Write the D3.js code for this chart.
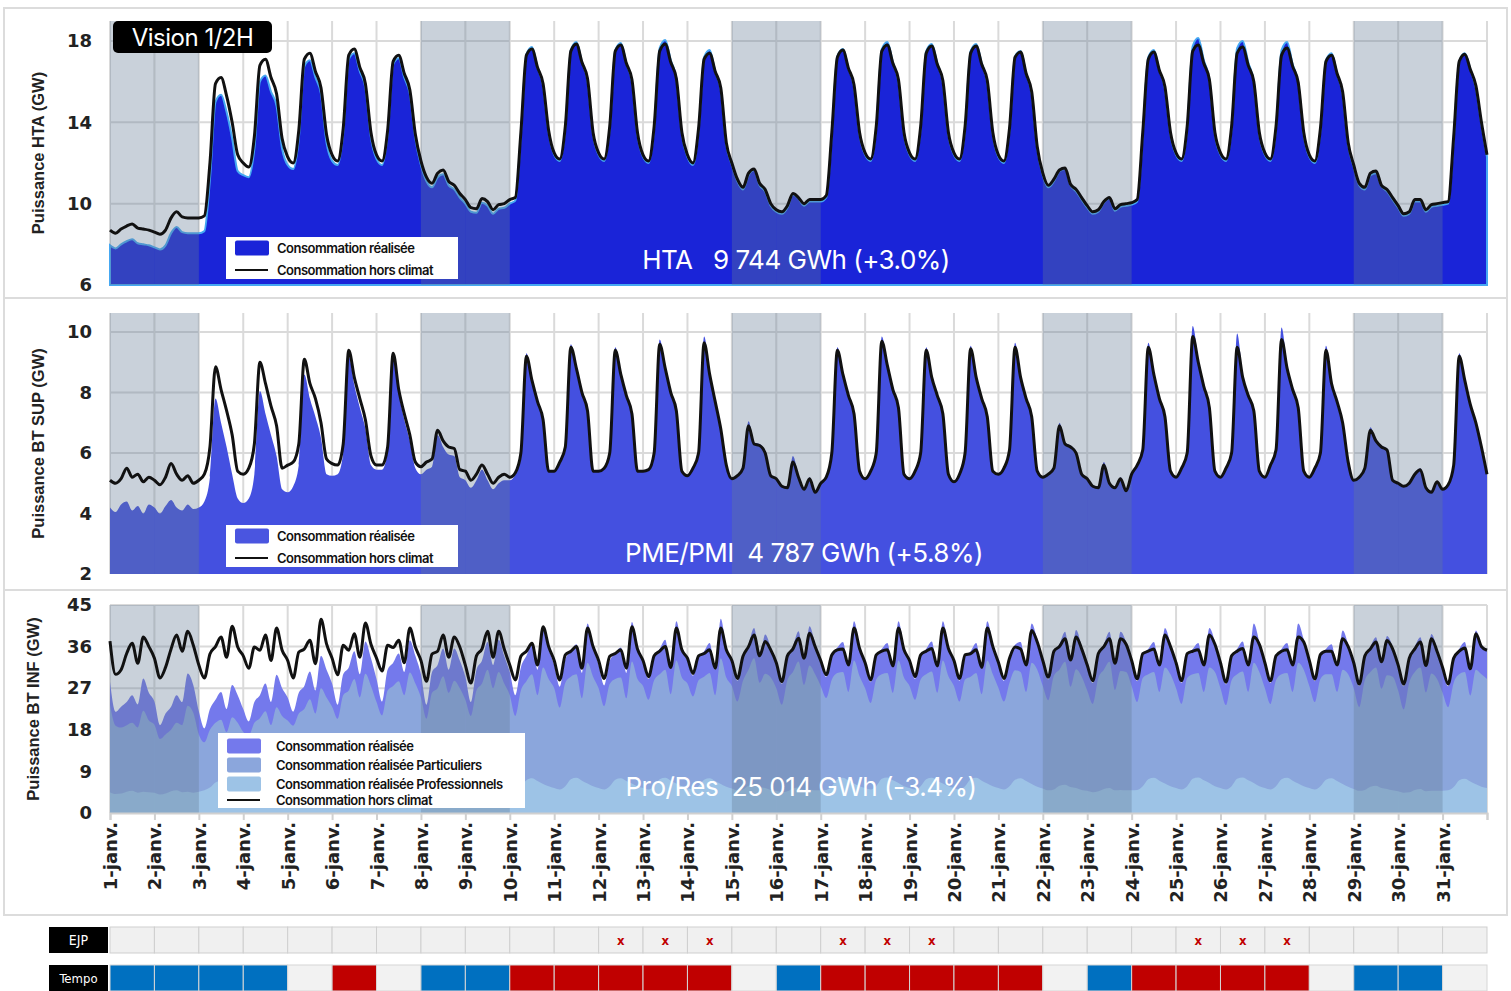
<!DOCTYPE html>
<html>
<head>
<meta charset="utf-8">
<script src="https://cdn.jsdelivr.net/npm/d3@7"></script>
<style>
  body { margin: 0; background: #fff; }
  svg { display: block; font-family: "DejaVu Sans", sans-serif; }
</style>
</head>
<body>
<svg id="chart" width="1511" height="991"></svg>
<script>
// one row = one day, 8 points every 3h (0h,3h,...,21h); last row = 1 Feb 0h
const htaHorsClimat = [
  [8.7, 8.55, 8.75, 8.9, 9.0, 8.8, 8.75, 8.7],
  [8.6, 8.5, 8.7, 9.3, 9.6, 9.35, 9.3, 9.3],
  [9.3, 9.4, 12.0, 15.9, 16.2, 15.3, 14.0, 12.4],
  [12.0, 11.8, 13.3, 16.8, 17.1, 16.2, 15.4, 13.2],
  [12.3, 12.0, 13.6, 17.1, 17.4, 16.5, 15.7, 13.4],
  [12.4, 12.1, 13.7, 17.3, 17.6, 16.7, 15.9, 13.5],
  [12.4, 12.1, 13.6, 17.0, 17.3, 16.4, 15.6, 13.4],
  [12.1, 11.3, 11.0, 11.5, 11.65, 11.1, 10.9, 10.5],
  [10.2, 9.8, 9.75, 10.25, 10.1, 9.7, 9.95, 10.0],
  [10.2, 10.3, 13.5, 17.3, 17.6, 16.7, 15.9, 13.6],
  [12.5, 12.2, 13.8, 17.5, 17.85, 16.95, 16.15, 13.5],
  [12.5, 12.2, 13.8, 17.5, 17.8, 16.9, 16.1, 13.5],
  [12.4, 12.1, 13.8, 17.5, 17.85, 16.95, 16.15, 13.5],
  [12.4, 12.0, 13.7, 17.1, 17.4, 16.5, 15.7, 13.0],
  [12.0, 11.2, 10.8, 11.5, 11.7, 11.0, 10.7, 10.0],
  [9.7, 9.6, 9.9, 10.5, 10.3, 10.0, 10.2, 10.2],
  [10.2, 10.4, 13.5, 17.2, 17.55, 16.65, 15.85, 13.5],
  [12.5, 12.2, 13.8, 17.5, 17.8, 16.9, 16.1, 13.5],
  [12.5, 12.2, 13.8, 17.4, 17.75, 16.85, 16.05, 13.5],
  [12.5, 12.2, 13.8, 17.4, 17.75, 16.85, 16.05, 13.5],
  [12.4, 12.1, 13.7, 17.2, 17.45, 16.4, 15.5, 12.8],
  [11.5, 10.9, 11.2, 11.65, 11.75, 10.95, 10.7, 10.3],
  [9.9, 9.6, 9.7, 10.1, 10.3, 9.75, 9.95, 10.0],
  [10.05, 10.2, 13.5, 17.1, 17.45, 16.55, 15.75, 13.5],
  [12.5, 12.2, 13.8, 17.5, 17.8, 16.9, 16.1, 13.5],
  [12.5, 12.2, 13.8, 17.4, 17.7, 16.8, 16.0, 13.5],
  [12.5, 12.2, 13.8, 17.3, 17.65, 16.75, 15.95, 13.5],
  [12.4, 12.1, 13.7, 17.0, 17.3, 16.4, 15.5, 13.0],
  [11.9, 11.0, 10.8, 11.5, 11.6, 10.9, 10.7, 10.3],
  [9.9, 9.5, 9.6, 10.2, 10.2, 9.7, 9.95, 10.0],
  [10.05, 10.1, 13.3, 17.0, 17.35, 16.6, 15.8, 14.0],
  [12.4]
];
const htaRealise = [
  [7.95, 7.8, 8.0, 8.15, 8.25, 8.05, 8.0, 7.95],
  [7.85, 7.75, 7.95, 8.55, 8.85, 8.6, 8.55, 8.55],
  [8.55, 8.65, 11.2, 15.0, 15.35, 14.5, 13.2, 11.6],
  [11.4, 11.3, 12.7, 16.0, 16.3, 15.5, 14.8, 12.7],
  [11.9, 11.7, 13.2, 16.75, 17.05, 16.2, 15.4, 13.0],
  [12.1, 11.9, 13.45, 17.1, 17.4, 16.5, 15.7, 13.25],
  [12.2, 11.9, 13.4, 16.85, 17.15, 16.2, 15.4, 13.2],
  [11.9, 11.1, 10.8, 11.3, 11.45, 10.9, 10.7, 10.3],
  [10.0, 9.6, 9.55, 10.05, 9.9, 9.5, 9.75, 9.8],
  [10.0, 10.15, 13.4, 17.35, 17.7, 16.7, 15.8, 13.5],
  [12.4, 12.1, 13.7, 17.55, 17.95, 16.95, 16.05, 13.4],
  [12.4, 12.1, 13.7, 17.55, 17.9, 16.9, 16.0, 13.4],
  [12.3, 12.0, 13.7, 17.65, 18.05, 17.05, 16.15, 13.4],
  [12.3, 11.9, 13.6, 17.2, 17.55, 16.5, 15.6, 12.9],
  [11.9, 11.1, 10.7, 11.4, 11.65, 10.9, 10.6, 9.9],
  [9.6, 9.5, 9.8, 10.45, 10.25, 9.9, 10.1, 10.1],
  [10.1, 10.3, 13.4, 17.25, 17.6, 16.65, 15.75, 13.4],
  [12.4, 12.1, 13.7, 17.6, 17.95, 16.95, 16.0, 13.4],
  [12.4, 12.1, 13.7, 17.5, 17.85, 16.9, 15.95, 13.4],
  [12.4, 12.1, 13.7, 17.5, 17.85, 16.9, 15.95, 13.4],
  [12.3, 12.0, 13.6, 17.25, 17.5, 16.4, 15.4, 12.7],
  [11.4, 10.8, 11.1, 11.6, 11.7, 10.9, 10.6, 10.2],
  [9.8, 9.5, 9.6, 10.05, 10.25, 9.65, 9.85, 9.9],
  [9.95, 10.1, 13.4, 17.2, 17.55, 16.55, 15.65, 13.4],
  [12.4, 12.1, 13.7, 17.75, 18.15, 17.05, 16.1, 13.4],
  [12.4, 12.1, 13.7, 17.65, 18.0, 16.95, 16.0, 13.4],
  [12.4, 12.1, 13.7, 17.55, 17.95, 16.85, 15.95, 13.4],
  [12.3, 12.0, 13.6, 17.05, 17.4, 16.4, 15.4, 12.9],
  [11.8, 10.9, 10.7, 11.4, 11.5, 10.85, 10.6, 10.2],
  [9.8, 9.4, 9.5, 10.1, 10.1, 9.6, 9.85, 9.9],
  [9.95, 10.0, 13.2, 17.0, 17.4, 16.6, 15.7, 13.9],
  [12.3]
];
const btsupHorsClimat = [
  [5.1, 5.0, 5.15, 5.5, 5.2, 5.3, 5.05, 5.2],
  [5.1, 4.95, 5.2, 5.65, 5.3, 5.1, 5.25, 5.0],
  [5.1, 5.3, 6.2, 8.85, 8.1, 7.4, 6.6, 5.4],
  [5.3, 5.5, 6.3, 9.0, 8.3, 7.55, 6.9, 5.5],
  [5.6, 5.7, 6.3, 9.1, 8.3, 7.8, 7.0, 5.8],
  [5.65, 5.6, 6.3, 9.4, 8.5, 7.8, 7.1, 5.9],
  [5.6, 5.6, 6.2, 9.3, 8.1, 7.3, 6.6, 5.7],
  [5.55, 5.7, 5.8, 6.75, 6.4, 6.2, 6.15, 5.45],
  [5.4, 5.1, 5.3, 5.6, 5.3, 5.0, 5.2, 5.3],
  [5.2, 5.35, 6.0, 9.2, 8.4, 7.7, 7.1, 5.4],
  [5.4, 5.7, 6.2, 9.5, 8.8, 8.0, 7.4, 5.4],
  [5.4, 5.5, 6.0, 9.4, 8.6, 7.9, 7.3, 5.4],
  [5.4, 5.45, 6.0, 9.6, 8.8, 8.0, 7.4, 5.4],
  [5.25, 5.5, 6.0, 9.65, 8.6, 7.7, 6.8, 5.6],
  [5.15, 5.25, 5.5, 6.9, 6.3, 6.25, 6.0, 5.25],
  [5.15, 4.9, 4.85, 5.7, 5.2, 4.8, 5.15, 4.7],
  [5.0, 5.2, 6.0, 9.4, 8.6, 7.9, 7.3, 5.4],
  [5.15, 5.4, 6.0, 9.7, 8.9, 8.1, 7.5, 5.3],
  [5.15, 5.4, 6.0, 9.4, 8.5, 7.9, 7.3, 5.3],
  [5.05, 5.3, 6.0, 9.45, 8.5, 7.8, 7.2, 5.4],
  [5.3, 5.5, 6.1, 9.5, 8.5, 7.8, 7.2, 5.4],
  [5.2, 5.3, 5.5, 6.9, 6.3, 6.2, 6.0, 5.3],
  [5.15, 4.9, 4.85, 5.6, 5.0, 4.85, 5.15, 4.75],
  [5.3, 5.6, 6.1, 9.5, 8.6, 7.8, 7.2, 5.4],
  [5.2, 5.5, 6.0, 9.85, 9.0, 8.2, 7.5, 5.4],
  [5.2, 5.5, 6.0, 9.5, 8.5, 7.9, 7.4, 5.4],
  [5.2, 5.6, 6.1, 9.75, 8.8, 8.1, 7.5, 5.4],
  [5.2, 5.5, 6.0, 9.4, 8.3, 7.7, 7.0, 5.7],
  [5.1, 5.2, 5.5, 6.75, 6.4, 6.2, 6.1, 5.1],
  [5.0, 4.9, 5.0, 5.3, 5.45, 4.85, 4.7, 5.05],
  [4.8, 4.95, 5.6, 9.2, 8.4, 7.6, 7.0, 6.2],
  [5.3]
];
const btsupRealise = [
  [4.2, 4.05, 4.3, 4.4, 4.1, 4.25, 4.0, 4.3],
  [4.2, 4.0, 4.25, 4.45, 4.2, 4.1, 4.3, 4.15],
  [4.2, 4.4, 5.2, 7.8, 7.0, 6.2, 5.3, 4.5],
  [4.35, 4.5, 5.3, 8.05, 7.3, 6.6, 5.9, 4.8],
  [4.7, 4.9, 5.6, 8.6, 7.8, 7.2, 6.5, 5.3],
  [5.25, 5.3, 6.0, 9.2, 8.25, 7.5, 6.8, 5.6],
  [5.45, 5.45, 6.05, 9.25, 8.0, 7.1, 6.4, 5.5],
  [5.3, 5.45, 5.55, 6.6, 6.2, 5.95, 5.9, 5.2],
  [5.1, 4.85, 5.1, 5.45, 5.1, 4.8, 5.0, 5.1],
  [5.1, 5.3, 6.0, 9.3, 8.45, 7.7, 7.1, 5.4],
  [5.4, 5.7, 6.2, 9.6, 8.85, 8.0, 7.4, 5.4],
  [5.4, 5.5, 6.0, 9.5, 8.65, 7.9, 7.3, 5.4],
  [5.4, 5.45, 6.05, 9.75, 8.85, 8.0, 7.4, 5.4],
  [5.25, 5.5, 6.05, 9.85, 8.7, 7.7, 6.8, 5.6],
  [5.15, 5.3, 5.55, 7.05, 6.35, 6.3, 6.05, 5.25],
  [5.15, 4.9, 4.9, 5.9, 5.25, 4.85, 5.2, 4.75],
  [5.0, 5.2, 6.05, 9.5, 8.65, 7.9, 7.3, 5.4],
  [5.15, 5.4, 6.05, 9.85, 8.95, 8.1, 7.5, 5.3],
  [5.15, 5.4, 6.05, 9.5, 8.55, 7.9, 7.3, 5.3],
  [5.05, 5.3, 6.05, 9.55, 8.55, 7.8, 7.2, 5.4],
  [5.3, 5.5, 6.15, 9.65, 8.55, 7.8, 7.2, 5.4],
  [5.2, 5.3, 5.55, 7.0, 6.35, 6.25, 6.05, 5.3],
  [5.15, 4.9, 4.9, 5.7, 5.05, 4.9, 5.2, 4.8],
  [5.3, 5.6, 6.15, 9.65, 8.65, 7.8, 7.2, 5.4],
  [5.2, 5.5, 6.1, 10.2, 9.1, 8.2, 7.5, 5.4],
  [5.2, 5.5, 6.1, 9.95, 8.6, 7.9, 7.4, 5.4],
  [5.2, 5.6, 6.15, 10.15, 8.9, 8.1, 7.5, 5.4],
  [5.2, 5.5, 6.05, 9.55, 8.35, 7.7, 7.0, 5.7],
  [5.1, 5.2, 5.55, 6.85, 6.45, 6.25, 6.15, 5.1],
  [5.0, 4.9, 5.05, 5.35, 5.5, 4.9, 4.75, 5.05],
  [4.8, 4.95, 5.65, 9.3, 8.45, 7.6, 7.0, 6.2],
  [5.3]
];
const btinfHorsClimat = [
  [37.2, 30.0, 31.0, 34.5, 36.7, 32.4, 38.1, 36.0],
  [33.5, 29.2, 31.5, 35.5, 38.5, 35.0, 39.3, 36.3],
  [32.0, 29.2, 34.4, 36.0, 38.1, 33.7, 40.4, 35.9],
  [34.0, 31.3, 35.9, 35.2, 38.5, 33.0, 40.0, 35.2],
  [33.0, 29.2, 34.8, 35.5, 37.4, 32.3, 41.9, 36.6],
  [33.5, 29.9, 36.3, 35.2, 38.8, 33.7, 41.1, 36.5],
  [33.5, 30.7, 36.3, 35.8, 37.4, 32.5, 40.0, 35.9],
  [33.0, 28.5, 34.4, 35.0, 38.5, 33.7, 38.1, 35.9],
  [32.0, 28.1, 34.0, 35.5, 39.3, 33.7, 39.3, 35.5],
  [32.0, 28.8, 33.9, 35.0, 36.7, 32.0, 40.3, 36.0],
  [33.0, 28.8, 34.2, 35.0, 36.0, 31.3, 40.0, 36.0],
  [33.0, 29.1, 33.9, 34.5, 35.3, 31.3, 40.3, 35.5],
  [33.0, 29.5, 34.0, 35.0, 36.0, 31.5, 40.0, 35.3],
  [33.5, 30.2, 34.0, 34.5, 35.3, 31.3, 40.0, 35.3],
  [33.0, 29.1, 33.9, 36.0, 38.5, 34.0, 37.1, 35.3],
  [32.5, 28.4, 34.0, 35.5, 37.8, 33.5, 38.9, 36.0],
  [33.0, 29.9, 34.2, 35.3, 35.5, 32.0, 40.0, 35.6],
  [32.5, 28.8, 34.2, 35.0, 35.3, 31.8, 40.0, 35.3],
  [33.0, 29.5, 34.2, 35.0, 35.6, 31.8, 40.0, 35.6],
  [33.0, 29.1, 34.2, 34.5, 35.3, 31.5, 40.0, 36.0],
  [32.6, 29.1, 33.5, 35.9, 35.5, 32.0, 39.5, 37.0],
  [33.0, 29.4, 35.0, 36.0, 37.7, 33.1, 38.1, 35.5],
  [32.0, 28.6, 34.5, 36.0, 37.7, 32.4, 37.7, 36.5],
  [33.0, 29.0, 34.5, 35.0, 35.5, 32.0, 38.5, 36.0],
  [32.5, 28.6, 34.5, 35.0, 35.3, 32.0, 38.5, 36.5],
  [32.5, 28.3, 34.0, 35.0, 35.6, 32.0, 38.1, 36.5],
  [32.5, 28.6, 34.0, 35.0, 35.3, 32.0, 38.1, 37.0],
  [33.0, 29.0, 34.3, 35.0, 35.0, 32.0, 37.7, 36.0],
  [32.5, 27.9, 34.0, 35.5, 37.0, 32.7, 37.3, 35.5],
  [32.0, 27.9, 33.5, 35.5, 37.0, 31.9, 37.7, 35.0],
  [31.5, 27.9, 33.5, 35.0, 35.7, 31.2, 38.8, 36.0],
  [35.2]
];
const btinfRealise = [
  [28.4, 21.9, 23.0, 24.0, 25.5, 23.5, 29.1, 26.0],
  [24.1, 19.0, 21.5, 23.0, 25.5, 24.0, 30.2, 27.7],
  [22.0, 18.3, 22.5, 24.5, 26.2, 22.5, 27.7, 25.5],
  [22.5, 19.8, 24.0, 25.5, 28.0, 24.0, 29.9, 27.0],
  [25.0, 21.9, 26.0, 27.5, 30.6, 26.5, 34.0, 31.0],
  [28.0, 23.4, 30.0, 31.5, 35.0, 30.0, 37.1, 33.5],
  [29.0, 24.1, 31.0, 32.5, 34.5, 30.5, 37.4, 34.0],
  [30.0, 23.4, 30.5, 32.0, 35.6, 31.0, 35.6, 33.0],
  [29.5, 24.0, 31.0, 33.0, 37.0, 32.0, 37.5, 34.0],
  [30.5, 25.5, 31.5, 34.0, 36.5, 31.0, 40.0, 35.5],
  [32.0, 27.3, 33.2, 35.0, 36.5, 30.3, 41.0, 36.0],
  [32.0, 27.6, 32.9, 34.5, 35.8, 30.3, 41.3, 35.5],
  [32.5, 29.0, 33.7, 35.5, 37.5, 31.2, 41.5, 35.8],
  [33.0, 29.7, 33.7, 35.0, 36.8, 31.0, 42.0, 35.8],
  [32.5, 28.6, 33.6, 36.5, 40.0, 33.7, 38.6, 35.8],
  [32.0, 27.9, 33.7, 36.0, 39.3, 33.2, 40.4, 36.5],
  [32.5, 29.4, 33.9, 35.8, 37.0, 31.7, 41.5, 36.1],
  [32.0, 28.3, 33.9, 35.5, 36.8, 31.5, 41.5, 35.8],
  [32.5, 29.0, 33.9, 35.5, 37.1, 31.5, 41.5, 36.1],
  [32.5, 28.6, 33.9, 35.0, 36.8, 31.2, 41.5, 36.5],
  [32.1, 28.6, 33.2, 36.4, 37.0, 31.7, 41.0, 37.5],
  [32.5, 28.9, 34.7, 36.5, 39.2, 32.8, 39.6, 36.0],
  [31.5, 28.1, 34.2, 36.5, 39.2, 32.1, 39.2, 37.0],
  [32.5, 28.5, 34.2, 35.5, 37.0, 31.7, 40.0, 36.5],
  [32.0, 28.1, 34.2, 35.5, 36.8, 31.7, 40.0, 37.0],
  [32.0, 27.8, 33.7, 35.5, 37.1, 31.7, 41.0, 37.0],
  [32.0, 28.1, 33.7, 35.5, 36.8, 31.7, 41.0, 37.5],
  [32.5, 28.5, 34.0, 35.5, 36.5, 31.7, 39.5, 36.5],
  [32.0, 27.4, 33.7, 36.0, 38.0, 32.4, 38.3, 36.0],
  [31.5, 27.4, 33.2, 36.0, 38.0, 31.6, 38.7, 35.5],
  [31.0, 27.4, 33.2, 35.5, 37.0, 30.9, 39.5, 36.5],
  [35.5]
];
const btinfParticuliers = [
  [23.4, 18.9, 18.5, 19.0, 19.5, 18.5, 22.1, 20.0],
  [19.1, 16.0, 17.0, 18.0, 19.5, 19.0, 23.2, 21.7],
  [17.0, 15.3, 18.0, 19.5, 20.2, 17.5, 20.7, 19.5],
  [17.5, 16.8, 19.5, 20.5, 22.0, 19.0, 22.9, 21.0],
  [20.0, 18.9, 21.5, 22.5, 24.6, 21.5, 27.0, 25.0],
  [23.0, 20.4, 25.5, 26.5, 29.0, 25.0, 30.1, 27.5],
  [24.0, 21.1, 26.5, 27.5, 28.5, 25.5, 30.4, 28.0],
  [25.0, 20.4, 26.0, 27.0, 29.6, 26.0, 28.6, 27.0],
  [24.5, 21.0, 26.5, 28.0, 31.0, 27.0, 30.5, 28.0],
  [25.5, 21.0, 26.5, 28.5, 30.0, 25.5, 31.5, 29.0],
  [27.0, 22.8, 28.2, 29.5, 30.0, 24.8, 32.5, 29.5],
  [27.0, 23.1, 27.9, 29.0, 29.3, 24.8, 32.8, 29.0],
  [27.5, 24.5, 28.7, 30.0, 31.0, 25.7, 33.0, 29.3],
  [28.0, 25.2, 28.7, 29.5, 30.3, 25.5, 33.5, 29.3],
  [27.5, 24.1, 28.6, 31.0, 33.5, 28.2, 30.1, 29.3],
  [27.0, 23.4, 28.7, 30.5, 32.8, 27.7, 31.9, 30.0],
  [27.5, 24.9, 28.9, 30.3, 30.5, 26.2, 33.0, 29.6],
  [27.0, 23.8, 28.9, 30.0, 30.3, 26.0, 33.0, 29.3],
  [27.5, 24.5, 28.9, 30.0, 30.6, 26.0, 33.0, 29.6],
  [27.5, 24.1, 28.9, 29.5, 30.3, 25.7, 33.0, 30.0],
  [27.1, 24.1, 28.2, 30.9, 30.5, 26.2, 32.5, 31.0],
  [27.5, 24.4, 29.7, 31.0, 32.7, 27.3, 31.1, 29.5],
  [26.5, 23.6, 29.2, 31.0, 32.7, 26.6, 30.7, 30.5],
  [27.5, 24.0, 29.2, 30.0, 30.5, 26.2, 31.5, 30.0],
  [27.0, 23.6, 29.2, 30.0, 30.3, 26.2, 31.5, 30.5],
  [27.0, 23.3, 28.7, 30.0, 30.6, 26.2, 32.5, 30.5],
  [27.0, 23.6, 28.7, 30.0, 30.3, 26.2, 32.5, 31.0],
  [27.5, 24.0, 29.0, 30.0, 30.0, 26.2, 31.0, 30.0],
  [27.0, 22.9, 28.7, 30.5, 31.5, 26.9, 29.8, 29.5],
  [26.5, 22.4, 28.2, 30.5, 31.5, 26.1, 30.2, 29.0],
  [26.0, 22.9, 28.2, 30.0, 30.5, 25.4, 31.0, 30.0],
  [29.0]
];
const btinfProfessionnels = [
  [4.5, 4.1, 4.2, 4.6, 4.8, 4.4, 4.6, 4.5],
  [4.4, 4.0, 4.2, 4.7, 4.9, 4.5, 4.6, 4.4],
  [4.6, 4.9, 5.5, 6.6, 7.0, 6.4, 6.0, 5.5],
  [5.3, 5.0, 5.6, 6.8, 7.2, 6.6, 6.1, 5.6],
  [5.4, 5.1, 5.7, 6.9, 7.3, 6.7, 6.2, 5.7],
  [5.4, 5.1, 5.7, 7.0, 7.4, 6.8, 6.3, 5.7],
  [5.4, 5.1, 5.7, 6.9, 7.3, 6.7, 6.2, 5.6],
  [5.2, 4.8, 5.0, 5.8, 6.0, 5.5, 5.3, 5.0],
  [4.8, 4.5, 4.6, 5.2, 5.4, 4.9, 5.0, 4.9],
  [4.8, 5.0, 5.7, 7.1, 7.5, 6.9, 6.3, 5.8],
  [5.4, 5.1, 5.8, 7.3, 7.6, 7.0, 6.4, 5.8],
  [5.4, 5.1, 5.8, 7.2, 7.5, 6.9, 6.4, 5.8],
  [5.4, 5.1, 5.8, 7.3, 7.6, 7.0, 6.4, 5.8],
  [5.4, 5.1, 5.8, 7.2, 7.5, 6.9, 6.3, 5.7],
  [5.3, 4.9, 5.1, 5.9, 6.1, 5.6, 5.4, 5.0],
  [4.8, 4.5, 4.7, 5.3, 5.5, 5.0, 5.1, 4.9],
  [4.9, 5.0, 5.8, 7.3, 7.6, 7.0, 6.4, 5.8],
  [5.4, 5.1, 5.8, 7.4, 7.7, 7.1, 6.5, 5.8],
  [5.4, 5.1, 5.8, 7.3, 7.6, 7.0, 6.4, 5.8],
  [5.4, 5.1, 5.8, 7.3, 7.6, 7.0, 6.4, 5.8],
  [5.4, 5.1, 5.8, 7.2, 7.5, 6.9, 6.3, 5.7],
  [5.3, 4.9, 5.1, 5.9, 6.1, 5.6, 5.4, 5.0],
  [4.8, 4.5, 4.7, 5.2, 5.4, 4.9, 5.0, 4.9],
  [4.9, 5.0, 5.8, 7.3, 7.6, 7.0, 6.4, 5.8],
  [5.4, 5.1, 5.8, 7.4, 7.7, 7.1, 6.5, 5.8],
  [5.4, 5.1, 5.8, 7.4, 7.7, 7.1, 6.5, 5.8],
  [5.4, 5.1, 5.8, 7.3, 7.6, 7.0, 6.4, 5.8],
  [5.4, 5.1, 5.8, 7.2, 7.5, 6.9, 6.3, 5.7],
  [5.2, 4.8, 5.0, 5.7, 5.9, 5.4, 5.2, 4.9],
  [4.7, 4.4, 4.5, 5.0, 5.2, 4.7, 4.8, 4.8],
  [4.8, 4.9, 5.6, 7.1, 7.4, 6.8, 6.2, 5.7],
  [5.4]
];

const dayLabels = d3.range(1, 32).map(d => d + "-janv.");
const weekendDays = [1, 2, 8, 9, 15, 16, 22, 23, 29, 30];
const ejpDays = [12, 13, 14, 17, 18, 19, 25, 26, 27];
const tempo = ["bleu", "bleu", "bleu", "bleu", "blanc", "rouge", "blanc", "bleu", "bleu", "rouge",
  "rouge", "rouge", "rouge", "rouge", "blanc", "bleu", "rouge", "rouge", "rouge", "rouge",
  "rouge", "blanc", "bleu", "rouge", "rouge", "rouge", "rouge", "blanc", "bleu", "bleu", "blanc"];
const tempoColors = { bleu: "#0070c0", rouge: "#c00000", blanc: "#f2f2f2" };

const svg = d3.select("#chart");
const x = d3.scaleLinear().domain([0, 31]).range([110, 1487]);
const xi = (d, i) => x(i / 8);
const cellW = x(1) - x(0);

// panel frames
[[8, 290], [298, 292], [590, 325]].forEach(([top, h]) => {
  svg.append("rect").attr("x", 4).attr("y", top).attr("width", 1503).attr("height", h)
    .attr("fill", "#fff").attr("stroke", "#dcdcdc").attr("stroke-width", 2);
});

const panels = [
  {
    top: 21, bottom: 285, domain: [6, 18.98], ticks: [6, 10, 14, 18],
    title: "Puissance HTA (GW)", titleX: 38,
    areas: [{ values: htaRealise.flat(), fill: "#1a24d8", stroke: "#45a8f2" }],
    line: htaHorsClimat.flat(),
    label: "HTA   9 744 GWh (+3.0%)", labelX: 796, labelY: 269,
    legend: { x: 226, y: 237, w: 232, h: 42, items: [
      { text: "Consommation réalisée", fill: "#1a24d8" },
      { text: "Consommation hors climat", line: true }] }
  },
  {
    top: 313, bottom: 574, domain: [2, 10.63], ticks: [2, 4, 6, 8, 10],
    title: "Puissance BT SUP (GW)", titleX: 38,
    areas: [{ values: btsupRealise.flat(), fill: "#4450e0" }],
    line: btsupHorsClimat.flat(),
    label: "PME/PMI  4 787 GWh (+5.8%)", labelX: 804, labelY: 562,
    legend: { x: 226, y: 525, w: 232, h: 42, items: [
      { text: "Consommation réalisée", fill: "#4a55e0" },
      { text: "Consommation hors climat", line: true }] }
  },
  {
    top: 605, bottom: 813, domain: [0, 45], ticks: [0, 9, 18, 27, 36, 45],
    title: "Puissance BT INF (GW)", titleX: 33,
    areas: [
      { values: btinfRealise.flat(), fill: "#7479ec" },
      { values: btinfParticuliers.flat(), fill: "#8ba6dc" },
      { values: btinfProfessionnels.flat(), fill: "#9dc3e6" }],
    line: btinfHorsClimat.flat(),
    label: "Pro/Res  25 014 GWh (-3.4%)", labelX: 801, labelY: 796,
    legend: { x: 218, y: 733, w: 307, h: 75, items: [
      { text: "Consommation réalisée", fill: "#7479ec" },
      { text: "Consommation réalisée Particuliers", fill: "#8ba6dc" },
      { text: "Consommation réalisée Professionnels", fill: "#9dc3e6" },
      { text: "Consommation hors climat", line: true }] }
  }
];

panels.forEach(p => {
  const y = d3.scaleLinear().domain(p.domain).range([p.bottom, p.top]);
  const g = svg.append("g");

  g.selectAll(".hgrid").data(p.ticks.filter(t => t > p.domain[0])).join("line")
    .attr("x1", x(0)).attr("x2", x(31)).attr("y1", d => y(d)).attr("y2", d => y(d))
    .attr("stroke", "#dadada").attr("stroke-width", 2);
  g.selectAll(".vgrid").data(d3.range(0, 32)).join("line")
    .attr("x1", d => x(d)).attr("x2", d => x(d)).attr("y1", p.top).attr("y2", p.bottom)
    .attr("stroke", "#dadada").attr("stroke-width", 2);

  const area = d3.area().x(xi).y0(y(p.domain[0])).y1(d => y(d)).curve(d3.curveMonotoneX);
  p.areas.forEach(a => {
    g.append("path").datum(a.values).attr("d", area)
      .attr("fill", a.fill)
      .attr("stroke", a.stroke || "none").attr("stroke-width", 2);
  });

  g.selectAll(".we").data(weekendDays).join("rect")
    .attr("x", d => x(d - 1)).attr("width", cellW)
    .attr("y", p.top).attr("height", p.bottom - p.top)
    .attr("fill", "rgb(100,123,149)").attr("opacity", 0.35);

  g.append("path").datum(p.line)
    .attr("d", d3.line().x(xi).y(d => y(d)).curve(d3.curveMonotoneX))
    .attr("fill", "none").attr("stroke", "#111").attr("stroke-width", 3)
    .attr("stroke-linejoin", "round");

  const ax = g.append("g").attr("transform", `translate(${x(0)},0)`)
    .call(d3.axisLeft(y).tickValues(p.ticks).tickSize(0).tickPadding(18));
  ax.select(".domain").remove();
  ax.selectAll("text").attr("font-size", 18).attr("font-weight", "bold")
    .attr("fill", "#222").attr("font-family", "DejaVu Sans");

  g.append("text")
    .attr("transform", `translate(${p.titleX},${(p.top + p.bottom) / 2}) rotate(-90)`)
    .attr("text-anchor", "middle").attr("dy", "0.35em")
    .attr("font-family", "Liberation Sans").attr("font-weight", "bold").attr("font-size", 16.5)
    .attr("fill", "#222").text(p.title);

  // legend
  const L = p.legend;
  const big = L.items.length > 2;
  const lg = g.append("g").attr("transform", `translate(${L.x},${L.y})`);
  lg.append("rect").attr("width", L.w).attr("height", L.h).attr("fill", "#fff");
  L.items.forEach((it, i) => {
    const cy = big ? 13 + i * 19 - (it.line ? 3 : 0) : 11 + i * 22;
    if (it.line) {
      lg.append("line").attr("x1", 9).attr("x2", 42).attr("y1", cy).attr("y2", cy)
        .attr("stroke", "#111").attr("stroke-width", 2);
    } else {
      lg.append("rect").attr("x", 9).attr("y", cy - 7.5).attr("width", 34).attr("height", 15)
        .attr("rx", 2).attr("fill", it.fill);
    }
    lg.append("text").attr("x", big ? 58 : 51).attr("y", cy).attr("dy", "0.36em")
      .attr("font-family", "Inter").attr("font-weight", 600).attr("font-size", 13)
      .attr("letter-spacing", "-0.5px").attr("fill", "#111").text(it.text);
  });

  g.append("text").attr("x", p.labelX).attr("y", p.labelY).attr("text-anchor", "middle")
    .attr("font-family", "Inter").attr("font-size", 26).attr("letter-spacing", "-0.5px")
    .attr("fill", "#fff").style("white-space", "pre").text(p.label);
});

// Vision 1/2H badge
svg.append("rect").attr("x", 113).attr("y", 21).attr("width", 159).attr("height", 32)
  .attr("rx", 5).attr("fill", "#000");
svg.append("text").attr("x", 192.5).attr("y", 46).attr("text-anchor", "middle")
  .attr("font-family", "Inter").attr("font-size", 24).attr("letter-spacing", "-0.5px")
  .attr("fill", "#fff").text("Vision 1/2H");

// x axis under BT INF panel
const xa = svg.append("g").attr("transform", "translate(0,813)")
  .call(d3.axisBottom(x).tickValues(d3.range(0, 32)).tickSize(7)
    .tickFormat(i => i < 31 ? dayLabels[i] : ""));
xa.select(".domain").attr("stroke", "#d0d0d0").attr("stroke-width", 2);
xa.selectAll(".tick line").attr("stroke", "#d0d0d0").attr("stroke-width", 2);
xa.selectAll("text")
  .attr("transform", "rotate(-90)").attr("x", -9).attr("y", 0).attr("dy", "0.36em")
  .style("text-anchor", "end")
  .attr("font-family", "DejaVu Sans").attr("font-weight", "bold").attr("font-size", 18)
  .attr("fill", "#222");

// EJP and Tempo rows
function rowLabel(y, text, size) {
  svg.append("rect").attr("x", 49).attr("y", y).attr("width", 59).attr("height", 26).attr("fill", "#000");
  svg.append("text").attr("x", 78.5).attr("y", y + 13).attr("dy", "0.36em").attr("text-anchor", "middle")
    .attr("font-family", "DejaVu Sans Condensed, DejaVu Sans").attr("font-size", size)
    .attr("fill", "#fff").text(text);
}
rowLabel(927, "EJP", 14);
svg.selectAll(".ejp").data(d3.range(31)).join("rect")
  .attr("x", d => x(d)).attr("y", 927).attr("width", cellW).attr("height", 26)
  .attr("fill", "#f0f0f0").attr("stroke", "#cfcfcf").attr("stroke-width", 1);
svg.selectAll(".ejpx").data(ejpDays).join("text")
  .attr("x", d => x(d - 1) + cellW / 2).attr("y", 940).attr("dy", "0.36em")
  .attr("text-anchor", "middle").attr("font-family", "DejaVu Sans Condensed, DejaVu Sans")
  .attr("font-weight", "bold").attr("font-size", 13).attr("fill", "#c00000").text("x");

rowLabel(965, "Tempo", 13);
svg.selectAll(".tempo").data(tempo).join("rect")
  .attr("x", (d, i) => x(i)).attr("y", 965).attr("width", cellW).attr("height", 26)
  .attr("fill", d => tempoColors[d]).attr("stroke", "#d6d6d6").attr("stroke-width", 1);
</script>
</body>
</html>
